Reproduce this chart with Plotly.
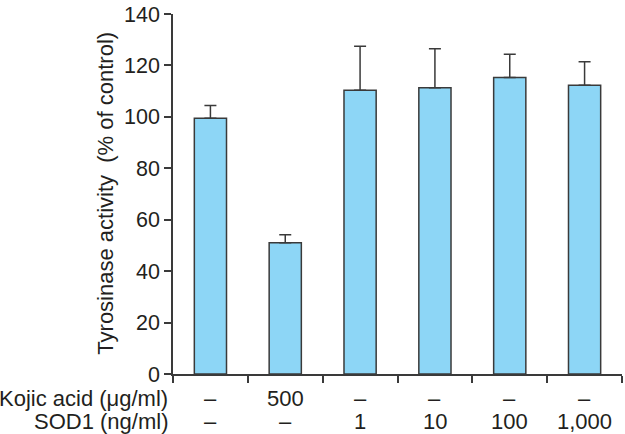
import plotly.graph_objects as go

categories = ["Control", "Kojic acid 500", "SOD1 1", "SOD1 10", "SOD1 100", "SOD1 1,000"]
activity = [99.5, 51.0, 110.3, 111.3, 115.3, 112.3]
error_up = [4.9, 3.2, 17.2, 15.2, 9.0, 9.1]
kojic_labels = ["–", "500", "–", "–", "–", "–"]
sod1_labels = ["–", "–", "1", "10", "100", "1,000"]
row_titles = ["Kojic acid (μg/ml)", "SOD1 (ng/ml)"]
y_ticks = [0, 20, 40, 60, 80, 100, 120, 140]

FONT = "Liberation Sans, Arial, sans-serif"
TXT = "#231f20"
LINE = "#3a3a3a"

fig = go.Figure()
fig.add_trace(go.Bar(
    x=categories, y=activity, width=0.43,
    marker=dict(color="#8dd6f6", line=dict(color=LINE, width=1.5)),
    error_y=dict(type="data", array=error_up, arrayminus=[0] * len(error_up),
                 symmetric=False, color=LINE, thickness=1.5, width=6),
))

W, H = 625, 434
ml, mr, mt, mb = 172.5, 2.5, 8, 60
pw = W - ml - mr
ph = H - mt - mb

def py(pix):
    return (H - mb - pix) / ph

def px(pix):
    return (pix - ml) / pw

ann = []
for i, c in enumerate(categories):
    ann.append(dict(x=c, xref="x", y=py(399), yref="paper", text=kojic_labels[i],
                    showarrow=False, xanchor="center", yanchor="middle",
                    font=dict(size=22, color=TXT, family=FONT)))
    ann.append(dict(x=c, xref="x", y=py(422.5), yref="paper", text=sod1_labels[i],
                    showarrow=False, xanchor="center", yanchor="middle",
                    font=dict(size=22, color=TXT, family=FONT)))
for t, yy in zip(row_titles, [399, 422.5]):
    ann.append(dict(x=px(169), xref="paper", y=py(yy), yref="paper", text=t,
                    showarrow=False, xanchor="right", yanchor="middle",
                    font=dict(size=22, color=TXT, family=FONT)))
ann.append(dict(x=px(104), xref="paper", y=py(190), yref="paper",
                text="Tyrosinase activity\u00a0 (% of control)", textangle=-90,
                showarrow=False, xanchor="center", yanchor="middle",
                font=dict(size=22, color=TXT, family=FONT)))

fig.update_layout(
    width=W, height=H,
    margin=dict(l=ml, r=mr, t=mt, b=mb, pad=0),
    paper_bgcolor="white", plot_bgcolor="white",
    showlegend=False,
    font=dict(family=FONT, size=21, color=TXT),
    annotations=ann,
    xaxis=dict(type="category", range=[-0.5, 5.5], showticklabels=False,
               ticks="outside", tickson="boundaries", ticklen=7, tickwidth=1.5,
               tickcolor=LINE, showline=True, linecolor=LINE, linewidth=1.5,
               showgrid=False, zeroline=False, fixedrange=True),
    yaxis=dict(range=[0, 140], tickvals=y_ticks, ticks="outside", ticklen=7,
               tickwidth=1.5, tickcolor=LINE, showline=True, linecolor=LINE,
               linewidth=1.5, showgrid=False, zeroline=False,
               ticklabeloverflow="allow",
               tickfont=dict(size=21.5, color=TXT, family=FONT)),
)

fig.write_html("out.html", config={"displayModeBar": False},
               post_script="document.body.style.margin='0';document.body.style.overflow='hidden';")
